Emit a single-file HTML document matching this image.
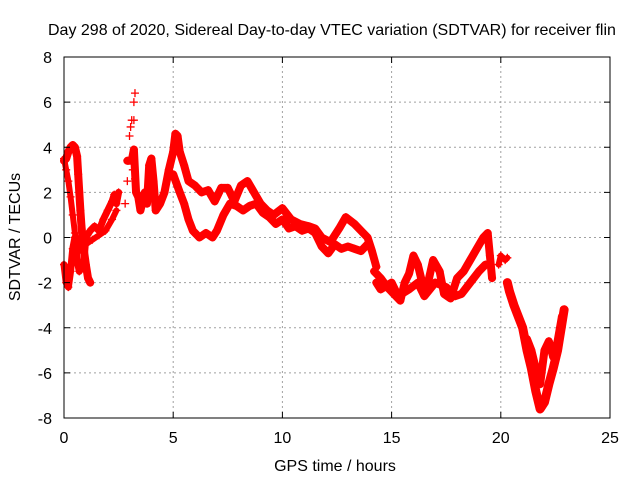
<!DOCTYPE html>
<html><head><meta charset="utf-8"><style>
body{margin:0;background:#fff;}
svg text{font-family:"Liberation Sans",sans-serif;font-size:16px;fill:#000;}
</style></head><body>
<svg id="chart" width="640" height="480" xmlns="http://www.w3.org/2000/svg">
<rect width="640" height="480" fill="#fff"/>
<g id="grid"></g>
<g id="marks"></g>
<rect x="64" y="57" width="546" height="361" fill="none" stroke="#000" stroke-width="1"/>
<g id="ticks"></g>
<text x="48" y="35">Day 298 of 2020, Sidereal Day-to-day VTEC variation (SDTVAR) for receiver flin</text>
<text x="335" y="471" text-anchor="middle">GPS time / hours</text>
<text x="0" y="0" text-anchor="middle" transform="translate(20,237) rotate(-90)">SDTVAR / TECUs</text>
</svg>
<script>
const xTicks=[0,5,10,15,20,25];
const yTicks=[-8,-6,-4,-2,0,2,4,6,8];
const track1=[[0,3.4],[0.1,3.5],[0.2,3.8],[0.3,4.0],[0.4,4.1],[0.5,4.0],[0.6,3.6],[0.65,2.8],[0.7,2.0],[0.75,1.2],[0.8,0.5],[0.9,-0.5],[1.0,-1.2],[1.1,-1.8],[1.2,-2.0]];
const track2=[[0,-1.2],[0.1,-2.0],[0.2,-2.2],[0.3,-1.5],[0.4,-0.5],[0.5,0],[0.6,-1.0],[0.7,-1.5],[0.9,-1.2],[1.0,0],[1.2,0.3],[1.4,0.5],[1.6,0.3],[1.8,0.8],[2.0,1.2],[2.2,1.6],[2.3,1.9],[2.4,1.5],[2.5,2.0]];
const track3=[[0,3.5],[0.1,3.0],[0.2,2.5],[0.3,1.8],[0.4,1.0],[0.5,0.2],[0.6,-0.3],[0.8,-0.6],[1.0,-0.3],[1.3,-0.1],[1.6,0.1],[1.9,0.3],[2.2,0.8],[2.4,1.2]];
const track4=[[2.8,1.5],[2.9,2.5],[3.0,4.5],[3.05,4.9],[3.1,5.2],[3.2,5.2],[3.2,6.0],[3.25,6.4],[2.95,3.4],[3.15,3.0],[3.25,2.6]];
const track5=[[2.9,3.4],[3.1,3.4],[3.2,3.9],[3.3,2.0],[3.4,1.8],[3.5,1.2],[3.7,2.0],[3.8,1.5],[3.9,3.2],[4.0,3.5],[4.1,2.5],[4.2,1.2],[4.4,1.5],[4.6,2.0],[4.8,3.0],[5.0,3.8],[5.1,4.6],[5.2,4.5],[5.3,3.8],[5.5,3.2],[5.7,2.5],[6.0,2.3],[6.3,2.0],[6.6,2.1],[6.9,1.6],[7.2,2.2],[7.5,2.2],[7.8,1.6],[8.1,2.3],[8.4,2.5],[8.7,2.0],[9.0,1.5],[9.3,1.2],[9.6,1.0],[10.0,1.3],[10.4,0.8],[10.8,0.6],[11.2,0.5],[11.5,0.4],[11.8,0.0],[12.2,-0.2],[12.6,0.4],[12.9,0.9],[13.3,0.6],[13.6,0.3],[13.9,0.0],[14.1,-0.6],[14.3,-1.3]];
const track6=[[5.0,2.8],[5.3,2.0],[5.5,1.5],[5.7,0.8],[5.9,0.3],[6.2,0.0],[6.5,0.2],[6.8,0.0],[7.0,0.3],[7.3,1.0],[7.6,1.5],[7.9,1.4],[8.2,1.2],[8.5,1.4],[8.8,1.5],[9.1,1.1],[9.4,0.9],[9.7,0.6],[10.0,0.8],[10.3,0.4],[10.6,0.5],[10.9,0.3],[11.2,0.4],[11.5,0.2],[11.8,-0.4],[12.1,-0.7],[12.4,-0.3],[12.7,-0.5],[13.0,-0.4],[13.3,-0.5],[13.6,-0.6],[13.9,-0.3]];
const track7=[[14.2,-1.5],[14.5,-1.8],[14.8,-2.2],[15.1,-2.5],[15.4,-2.8],[15.6,-2.0],[15.8,-1.6],[16.0,-0.8],[16.2,-1.2],[16.4,-2.0],[16.6,-2.3],[16.9,-1.0],[17.2,-1.5],[17.4,-2.5],[17.7,-2.7],[18.0,-1.8],[18.3,-1.5],[18.6,-1.0],[18.9,-0.5],[19.2,0.0],[19.4,0.2],[19.5,-0.8],[19.6,-1.8]];
const track8=[[14.3,-2.0],[14.5,-2.3],[15.0,-2.0],[15.3,-2.6],[15.8,-2.3],[16.2,-2.0],[16.5,-2.6],[17.0,-2.0],[17.5,-2.2],[17.9,-2.6],[18.2,-2.5],[18.6,-2.0],[19.0,-1.5],[19.3,-1.2]];
const track9=[[19.9,-1.2],[20.0,-0.8],[20.2,-1.0],[20.3,-0.9]];
const track10=[[20.3,-2.0],[20.4,-2.4],[20.6,-3.0],[20.8,-3.5],[21.0,-4.0],[21.2,-5.0],[21.4,-5.8],[21.6,-6.8],[21.8,-7.6],[22.0,-7.3],[22.2,-6.5],[22.4,-5.8],[22.6,-5.0],[22.8,-3.8],[22.9,-3.2]];
const track11=[[21.2,-4.5],[21.4,-5.0],[21.6,-5.8],[21.8,-6.5],[22.0,-5.0],[22.2,-4.6],[22.4,-5.3],[22.6,-4.6],[22.8,-3.5]];
const tracks=[track1,track2,track3,track4,track5,track6,track7,track8,track9,track10,track11];
const bandWidths=[8,7,6,0,8,8,8,8,6,9,8];

const X0=64,X1=610,Y0=418,Y1=57;
const xs=t=>X0+(t-0)/(25-0)*(X1-X0);
const ys=v=>Y0-(v+8)/16*(Y0-Y1);
const NS="http://www.w3.org/2000/svg";
const grid=document.getElementById('grid'),ticks=document.getElementById('ticks'),marks=document.getElementById('marks');
function mk(tag,attrs,parent){const e=document.createElementNS(NS,tag);for(const k in attrs)e.setAttribute(k,attrs[k]);parent.appendChild(e);return e;}
xTicks.forEach(t=>{
  const x=xs(t);
  if(t>0&&t<25){const g=mk('line',{x1:x,x2:x,y1:Y0,y2:Y1,stroke:'#a0a0a0','stroke-dasharray':'2,3'},grid);
  
  }
  mk('line',{x1:x,x2:x,y1:Y0,y2:Y0-6,stroke:'#000'},ticks);
  mk('line',{x1:x,x2:x,y1:Y1,y2:Y1+6,stroke:'#000'},ticks);
  const l=mk('text',{x:x,y:Y0+25,'text-anchor':'middle'},ticks);l.textContent=t;
  
  
});
yTicks.forEach(v=>{
  const y=ys(v);
  if(v>-8&&v<8){const g=mk('line',{x1:X0,x2:X1,y1:y,y2:y,stroke:'#a0a0a0','stroke-dasharray':'2,3'},grid);
  
  }
  mk('line',{x1:X0,x2:X0+6,y1:y,y2:y,stroke:'#000'},ticks);
  mk('line',{x1:X1,x2:X1-6,y1:y,y2:y,stroke:'#000'},ticks);
  const l=mk('text',{x:X0-12,y:y+6,'text-anchor':'end'},ticks);l.textContent=v;
  
  
});
tracks.forEach((tr,i)=>{
  if(bandWidths[i]>0){
    const pl=mk('polyline',{points:tr.map(p=>xs(p[0])+','+ys(p[1])).join(' '),fill:'none',stroke:'#ff0000','stroke-width':bandWidths[i],'stroke-linejoin':'round','stroke-linecap':'round'},marks);
    
    
  }
  tr.forEach(p=>{
    const x=xs(p[0]),y=ys(p[1]);
    const m=mk('path',{d:`M${x-4},${y}h8M${x},${y-4}v8`,stroke:'#ff0000','stroke-width':1.3},marks);
    
    
  });
});
</script>
</body></html>
